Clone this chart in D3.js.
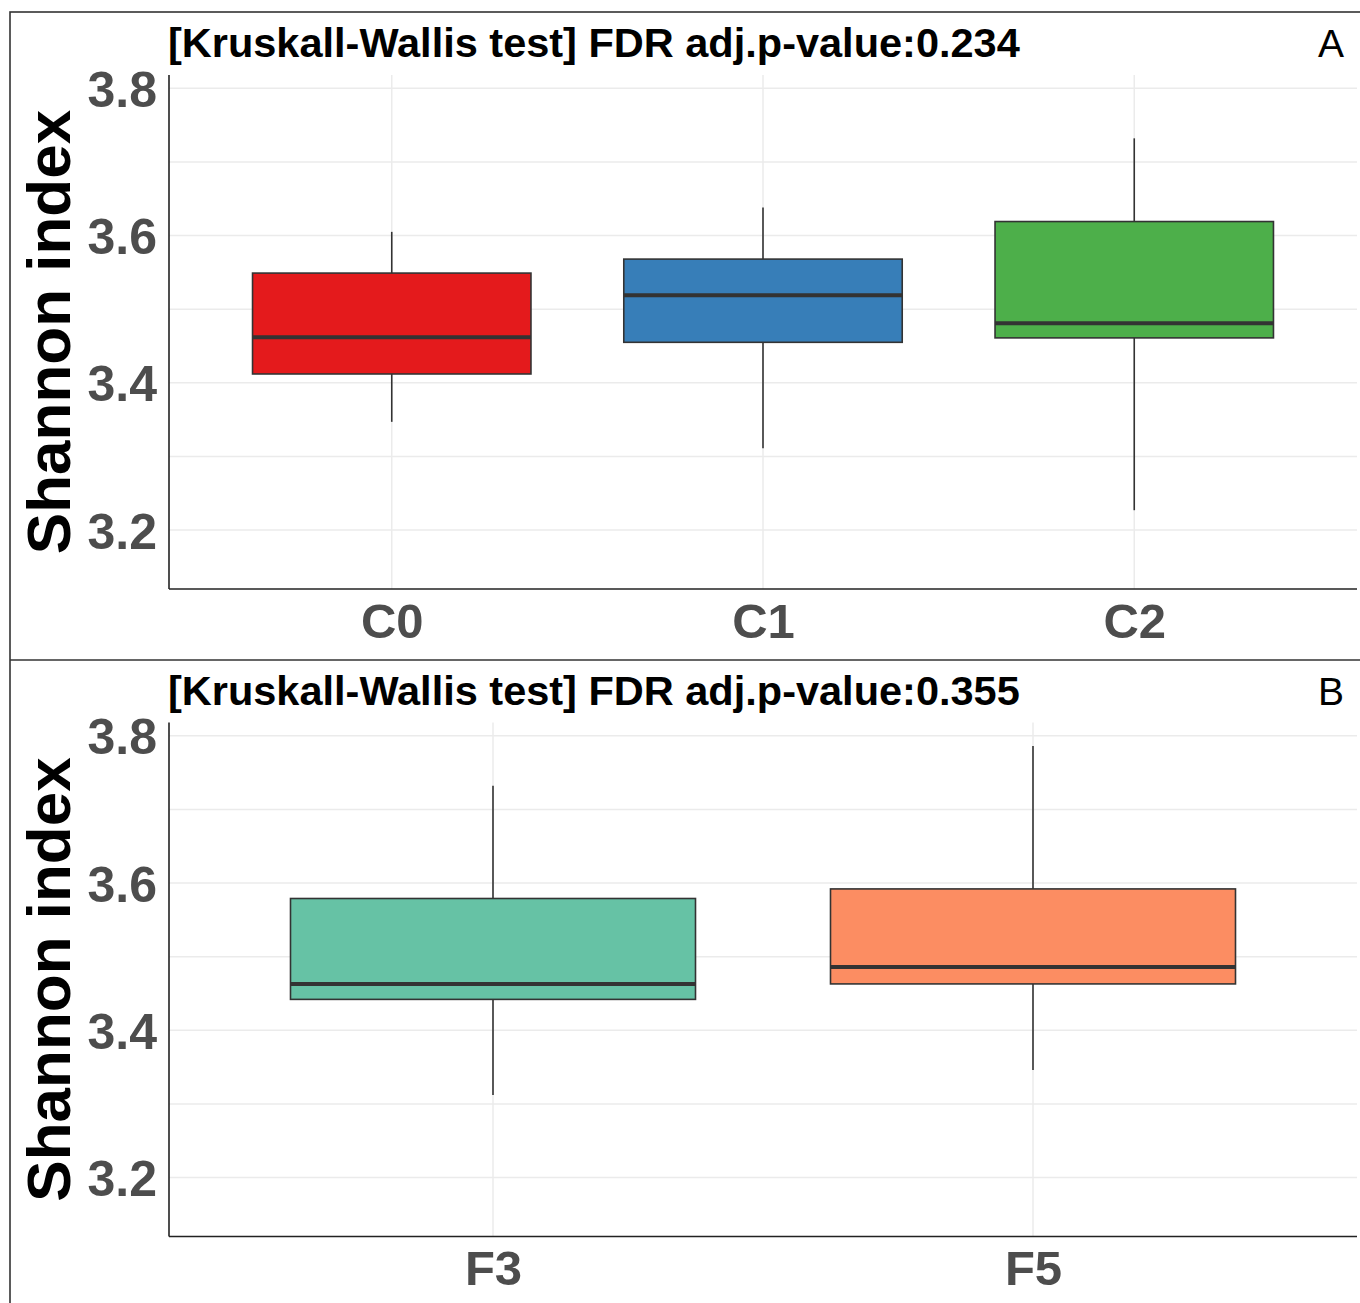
<!DOCTYPE html>
<html>
<head>
<meta charset="utf-8">
<script src="https://cdn.jsdelivr.net/npm/d3@7"></script>
<style>
  html, body { margin: 0; padding: 0; background: #fff; }
  svg { display: block; }
  text { font-family: "Liberation Sans", Arial, Helvetica, sans-serif; }
</style>
</head>
<body>
<svg id="chart" width="1360" height="1303"></svg>
<script>
// ---- Data ----
const catsA = ["C0", "C1", "C2"];
const lowA  = [3.347, 3.311, 3.227];
const q1A   = [3.412, 3.455, 3.461];
const medA  = [3.462, 3.519, 3.481];
const q3A   = [3.549, 3.568, 3.619];
const highA = [3.605, 3.638, 3.732];
const colorsA = ["#E41A1C", "#377EB8", "#4DAF4A"];
const titleA = "[Kruskall-Wallis test] FDR adj.p-value:0.234";

const catsB = ["F3", "F5"];
const lowB  = [3.312, 3.346];
const q1B   = [3.442, 3.463];
const medB  = [3.463, 3.486];
const q3B   = [3.579, 3.592];
const highB = [3.732, 3.786];
const colorsB = ["#66C2A5", "#FC8D62"];
const titleB = "[Kruskall-Wallis test] FDR adj.p-value:0.355";

const yMajor = [3.2, 3.4, 3.6, 3.8];
const yMinor = [3.3, 3.5, 3.7];
const yDomain = [3.12, 3.818];

// ---- Layout ----
const svg = d3.select("#chart");
const plotLeft = 169, plotRight = 1357;

// outer frame
svg.append("rect").attr("x", 10).attr("y", 12).attr("width", 1360).attr("height", 1300)
  .attr("fill", "none").attr("stroke", "#333").attr("stroke-width", 1.6);
svg.append("line").attr("x1", 10).attr("x2", 1360).attr("y1", 660).attr("y2", 660)
  .attr("stroke", "#333").attr("stroke-width", 1.6);

function drawPanel(off, cats, low, q1, med, q3, high, colors, title, tag) {
  const g = svg.append("g").attr("transform", `translate(0,${off})`);
  const top = 75, bottom = 589;
  const y = d3.scaleLinear().domain(yDomain).range([bottom, top]);
  const n = cats.length;
  // ggplot-style discrete expansion: 0.6 units each side
  const xc = d3.scaleLinear().domain([0.4, n + 0.6]).range([plotLeft, plotRight]);
  const unit = xc(2) - xc(1);
  const boxW = 0.75 * unit;

  // grid
  const grid = g.append("g");
  grid.selectAll(".minor").data(yMinor).enter().append("line")
    .attr("x1", plotLeft).attr("x2", plotRight)
    .attr("y1", d => y(d)).attr("y2", d => y(d))
    .attr("stroke", "#EBEBEB").attr("stroke-width", 1.5);
  grid.selectAll(".major").data(yMajor).enter().append("line")
    .attr("x1", plotLeft).attr("x2", plotRight)
    .attr("y1", d => y(d)).attr("y2", d => y(d))
    .attr("stroke", "#EBEBEB").attr("stroke-width", 1.5);
  grid.selectAll(".vx").data(cats).enter().append("line")
    .attr("x1", (d, i) => xc(i + 1)).attr("x2", (d, i) => xc(i + 1))
    .attr("y1", top).attr("y2", bottom)
    .attr("stroke", "#EBEBEB").attr("stroke-width", 1.5);

  // boxes
  const idx = d3.range(n);
  const bx = g.append("g");
  bx.selectAll(".wh").data(idx).enter().append("line")
    .attr("x1", i => xc(i + 1)).attr("x2", i => xc(i + 1))
    .attr("y1", i => y(q3[i])).attr("y2", i => y(high[i]))
    .attr("stroke", "#333").attr("stroke-width", 1.6);
  bx.selectAll(".wl").data(idx).enter().append("line")
    .attr("x1", i => xc(i + 1)).attr("x2", i => xc(i + 1))
    .attr("y1", i => y(q1[i])).attr("y2", i => y(low[i]))
    .attr("stroke", "#333").attr("stroke-width", 1.6);
  bx.selectAll(".box").data(idx).enter().append("rect")
    .attr("x", i => xc(i + 1) - boxW / 2).attr("width", boxW)
    .attr("y", i => y(q3[i])).attr("height", i => y(q1[i]) - y(q3[i]))
    .attr("fill", i => colors[i]).attr("stroke", "#333").attr("stroke-width", 1.6);
  bx.selectAll(".med").data(idx).enter().append("line")
    .attr("x1", i => xc(i + 1) - boxW / 2).attr("x2", i => xc(i + 1) + boxW / 2)
    .attr("y1", i => y(med[i])).attr("y2", i => y(med[i]))
    .attr("stroke", "#333").attr("stroke-width", 4);

  // axes lines
  g.append("line").attr("x1", plotLeft).attr("x2", plotLeft).attr("y1", top).attr("y2", bottom)
    .attr("stroke", "#222").attr("stroke-width", 1.6);
  g.append("line").attr("x1", plotLeft).attr("x2", plotRight).attr("y1", bottom).attr("y2", bottom)
    .attr("stroke", "#222").attr("stroke-width", 1.6);

  // y tick labels
  const yAxis = d3.axisLeft(y).tickValues(yMajor).tickSize(0).tickPadding(12).tickFormat(d3.format(".1f"));
  const ya = g.append("g").attr("transform", `translate(${plotLeft},0)`).call(yAxis);
  ya.select(".domain").remove();
  ya.selectAll("text").attr("fill", "#4D4D4D").attr("font-size", 50).attr("font-weight", "bold")
    .attr("font-family", "'Liberation Sans', Arial, sans-serif").attr("dy", "0.36em");

  // x tick labels
  const xb = d3.scalePoint().domain(cats).range([xc(1), xc(n)]);
  const xAxis = d3.axisBottom(xb).tickSize(0).tickPadding(14);
  const xa = g.append("g").attr("transform", `translate(0,${bottom})`).call(xAxis);
  xa.select(".domain").remove();
  xa.selectAll("text").attr("fill", "#4D4D4D").attr("font-size", 49).attr("font-weight", "bold")
    .attr("font-family", "'Liberation Sans', Arial, sans-serif").attr("dy", "0.71em");

  // y label
  g.append("text").attr("transform", `translate(70,${(top + bottom) / 2}) rotate(-90)`)
    .attr("text-anchor", "middle").attr("font-size", 62).attr("font-weight", "bold")
    .attr("fill", "#000").text("Shannon index");

  // title
  g.append("text").attr("x", 168).attr("y", 57).attr("font-size", 41.5).attr("font-weight", "bold")
    .attr("fill", "#000").text(title);
  // tag
  g.append("text").attr("x", 1344).attr("y", 57).attr("text-anchor", "end")
    .attr("font-size", 39).attr("fill", "#000").text(tag);
}

drawPanel(0, catsA, lowA, q1A, medA, q3A, highA, colorsA, titleA, "A");
drawPanel(647.5, catsB, lowB, q1B, medB, q3B, highB, colorsB, titleB, "B");
</script>
</body>
</html>
